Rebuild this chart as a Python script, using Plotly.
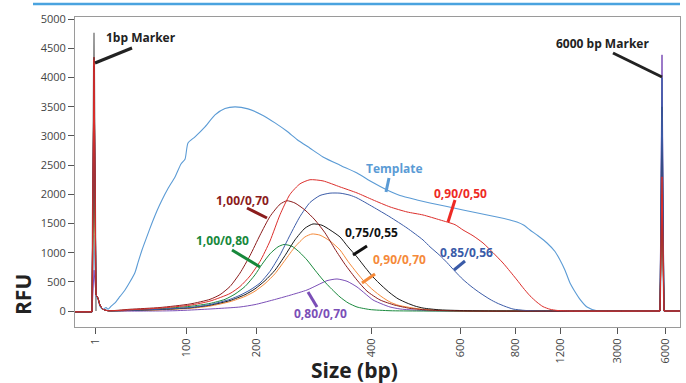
import plotly.graph_objects as go

# ---------------- data ----------------
TICK_POS = [95, 186, 256, 371, 460, 515, 560, 617, 665]
TICK_LABELS = ["1", "100", "200", "400", "600", "800", "1200", "3000", "6000"]
MARKER_POS = [94, 662]

SHOULDER_X = [96, 98, 100, 103, 108]
SHOULDER_Y = [280, 220, 100, 30, 5]

template_x = [96, 98, 100, 103, 106, 108, 111, 115, 120, 125, 130, 135, 138, 142, 147, 152, 157, 162, 168,
              175, 181, 185, 188, 195, 205, 215, 225, 235, 248, 262, 275, 287, 297, 310, 323, 340, 357, 372,
              387, 400, 417, 430, 447, 463, 480, 497, 510, 517, 524, 530, 538, 547, 555, 560, 565, 570, 575,
              580, 587, 597, 620, 655]
template_y = [250, 200, 80, 30, 60, 30, 80, 140, 250, 360, 500, 660, 830, 1046, 1280, 1509, 1720, 1904, 2100,
              2298, 2520, 2600, 2880, 2985, 3156, 3361, 3470, 3499, 3464, 3361, 3224, 3080, 2940, 2790, 2641,
              2500, 2367, 2210, 2075, 1980, 1904, 1852, 1790, 1732, 1670, 1612, 1560, 1526, 1470, 1389, 1290,
              1166, 1020, 875, 700, 480, 330, 200, 69, 5, 0, 0]

red_x = [130, 160, 190, 210, 230, 240, 250, 260, 270, 280, 290, 300, 310, 323, 340, 357, 373, 390, 407, 423,
         440, 455, 463, 473, 483, 493, 503, 510, 517, 523, 530, 537, 543, 550, 557, 570, 655]
red_y = [20, 50, 100, 170, 300, 420, 600, 850, 1200, 1650, 2000, 2180, 2250, 2230, 2127, 2024, 1904, 1784,
         1698, 1646, 1561, 1480, 1389, 1290, 1166, 1000, 823, 680, 532, 400, 260, 150, 75, 30, 10, 0, 0]

blue_x = [130, 160, 190, 210, 230, 240, 250, 260, 270, 280, 290, 300, 310, 320, 330, 340, 350, 357, 373, 390,
          407, 423, 430, 440, 447, 455, 463, 472, 480, 490, 497, 505, 513, 525, 540, 655]
blue_y = [10, 30, 60, 110, 200, 270, 360, 480, 680, 960, 1300, 1620, 1860, 1980, 2020, 2020, 1985, 1938, 1784,
          1612, 1423, 1218, 1100, 950, 830, 680, 540, 410, 310, 200, 137, 80, 34, 10, 0, 0]

darkred_x = [130, 160, 190, 210, 220, 230, 240, 250, 260, 270, 280, 287, 295, 305, 315, 325, 335, 345, 357,
             367, 380, 395, 410, 430, 460, 655]
darkred_y = [30, 60, 120, 200, 280, 420, 650, 950, 1300, 1620, 1830, 1890, 1850, 1730, 1560, 1340, 1060, 800,
             530, 340, 190, 100, 45, 15, 0, 0]

green_x = [130, 160, 190, 210, 225, 235, 245, 255, 262, 270, 278, 284, 292, 300, 307, 315, 323, 332, 340, 348,
           357, 370, 390, 420, 655]
green_y = [15, 40, 80, 130, 200, 290, 420, 620, 800, 980, 1100, 1140, 1110, 1000, 875, 700, 532, 370, 240, 140,
           69, 25, 5, 0, 0]

black_x = [130, 160, 190, 210, 230, 245, 255, 265, 275, 285, 295, 305, 313, 322, 330, 340, 348, 357, 365, 373,
           382, 390, 398, 407, 415, 423, 440, 470, 500, 655]
black_y = [10, 25, 55, 100, 180, 280, 380, 520, 700, 950, 1220, 1420, 1492, 1470, 1390, 1269, 1100, 926, 750,
           583, 430, 309, 210, 137, 85, 51, 20, 5, 0, 0]

orange_x = [130, 160, 190, 210, 230, 245, 255, 265, 275, 285, 295, 305, 312, 320, 330, 340, 348, 357, 365, 373,
            382, 390, 398, 407, 420, 440, 470, 655]
orange_y = [8, 20, 45, 85, 160, 250, 340, 470, 640, 870, 1100, 1270, 1320, 1300, 1200, 1046, 850, 652, 490, 360,
            240, 154, 100, 69, 35, 12, 0, 0]

purple_x = [150, 175, 200, 220, 240, 255, 273, 290, 307, 317, 327, 337, 347, 357, 365, 373, 382, 390, 400, 413,
            430, 450, 655]
purple_y = [0, 5, 25, 45, 69, 110, 189, 270, 360, 440, 520, 549, 510, 412, 300, 189, 120, 69, 35, 17, 5, 0, 0]

# marker peak heights (1 bp marker, 6000 bp marker)
ladder_peaks = [4770, 2100]
template_peaks = [1300, 1800]
purple_peaks = [700, 4390]
orange_peaks = [2200, 2000]
green_peaks = [3400, 2200]
black_peaks = [4200, 3500]
blue_peaks = [4100, 4000]
red_peaks = [4300, 2300]
darkred_peaks = [4350, 2000]

# ---------------- figure ----------------
X0, X1 = 75, 680
Y0, Y1 = -274, 5039

fig = go.Figure()


def add_series(name, xs, ys, peaks, color, width=1.0, shoulder=True):
    p0, p1 = MARKER_POS
    mx = list(SHOULDER_X) + list(xs) if shoulder else list(xs)
    my = list(SHOULDER_Y) + list(ys) if shoulder else list(ys)
    fig.add_trace(go.Scatter(x=mx, y=my, mode="lines", name=name,
                             line=dict(color=color, width=width, shape="spline", smoothing=0.6),
                             showlegend=False, hoverinfo="skip"))
    sx = [X0, p0 - 2, p0, mx[0], None, mx[-1], p1 - 2, p1, p1 + 2, X1]
    sy = [-15, -15, peaks[0], my[0], None, my[-1], 0, peaks[1], 0, 0]
    fig.add_trace(go.Scatter(x=sx, y=sy, mode="lines", name=name, connectgaps=False,
                             line=dict(color=color, width=width),
                             showlegend=False, hoverinfo="skip"))


# grey ladder spikes
p0, p1 = MARKER_POS
fig.add_trace(go.Scatter(x=[p0 - 2, p0, p0 + 2, None, p1 - 2, p1, p1 + 2],
                         y=[0, ladder_peaks[0], 0, None, 0, ladder_peaks[1], 0],
                         mode="lines", line=dict(color="#8c8c8c", width=1.6),
                         showlegend=False, hoverinfo="skip"))

add_series("Template", template_x, template_y, template_peaks, "#5b9bd5", 1.1, shoulder=False)
add_series("0,80/0,70", purple_x, purple_y, purple_peaks, "#7b4fb7")
add_series("0,90/0,70", orange_x, orange_y, orange_peaks, "#f58a3a")
add_series("1,00/0,80", green_x, green_y, green_peaks, "#1b8a3e")
add_series("0,75/0,55", black_x, black_y, black_peaks, "#1a1a1a")
add_series("0,85/0,56", blue_x, blue_y, blue_peaks, "#3c5ca8")
add_series("1,00/0,70", darkred_x, darkred_y, darkred_peaks, "#8b1c1c")
add_series("0,90/0,50", red_x, red_y, red_peaks, "#dc2f2c")

PLOT_L, PLOT_T, PLOT_W, PLOT_H = 75, 17, 605, 310


def P(px, py):
    return (px - PLOT_L) / PLOT_W, (PLOT_T + PLOT_H - py) / PLOT_H


labels = [
    ("1bp Marker", 141, 37, "#222222", (95, 63), (132, 48)),
    ("6000 bp Marker", 602, 43, "#222222", (613, 53), (662, 77)),
    ("Template", 394, 168, "#5b9bd5", (389, 178), (386, 192)),
    ("0,90/0,50", 460, 193, "#ee2a24", (455, 200), (448, 222)),
    ("0,85/0,56", 466, 252, "#3a5ba8", (465, 261), (454, 270)),
    ("1,00/0,70", 242, 200, "#8b1c1c", (247, 208), (267, 218)),
    ("1,00/0,80", 222, 240, "#17883b", (232, 250), (260, 267)),
    ("0,75/0,55", 371, 232, "#111111", (367, 246), (353, 255)),
    ("0,90/0,70", 399, 259, "#f58a3a", (375, 274), (362, 283)),
    ("0,80/0,70", 320, 313, "#7b4fb7", (308, 292), (317, 307)),
]

annotations = []
shapes = []
for text, tx, ty, col, a, b in labels:
    x, y = P(tx, ty)
    annotations.append(dict(text=text, x=x, y=y, xref="paper", yref="paper", showarrow=False,
                            xanchor="center", yanchor="middle",
                            font=dict(family="Open Sans", size=12, color=col, weight="bold")))
    xa, ya = P(*a)
    xb, yb = P(*b)
    shapes.append(dict(type="line", xref="paper", yref="paper", x0=xa, y0=ya, x1=xb, y1=yb,
                       line=dict(color=col, width=3)))

# axis titles
x, y = P(23, 295)
annotations.append(dict(text="RFU", x=x, y=y, xref="paper", yref="paper", showarrow=False, textangle=-90,
                        xanchor="center", yanchor="middle",
                        font=dict(family="Open Sans", size=21, color="#222", weight="bold")))
x, y = P(354, 370)
annotations.append(dict(text="Size (bp)", x=x, y=y, xref="paper", yref="paper", showarrow=False,
                        xanchor="center", yanchor="middle",
                        font=dict(family="Open Sans", size=21, color="#222", weight="bold")))

# top blue rule
xa, ya = P(33, 4)
xb, yb = P(680, 4)
shapes.append(dict(type="line", xref="paper", yref="paper", x0=xa, y0=ya, x1=xb, y1=yb,
                   line=dict(color="#4aa3df", width=2.5)))

fig.update_layout(
    width=686, height=383,
    margin=dict(l=PLOT_L, r=686 - PLOT_L - PLOT_W, t=PLOT_T, b=383 - PLOT_T - PLOT_H, autoexpand=False),
    paper_bgcolor="white", plot_bgcolor="white",
    annotations=annotations, shapes=shapes,
    xaxis=dict(range=[X0, X1], tickvals=TICK_POS, ticktext=TICK_LABELS, tickangle=-90, automargin=False,
               showgrid=False, zeroline=False, showline=True, mirror=True, linecolor="#9a9a9a",
               linewidth=1, ticks="outside", ticklen=6, tickcolor="#555",
               tickfont=dict(family="Open Sans", size=11, color="#444")),
    yaxis=dict(range=[Y0, Y1], tickvals=list(range(0, 5001, 500)), showgrid=False, zeroline=False,
               automargin=False,
               showline=True, mirror=True, linecolor="#9a9a9a", linewidth=1, ticks="outside",
               ticklen=6, tickcolor="#555",
               tickfont=dict(family="Open Sans", size=11, color="#444")),
    showlegend=False,
)

fig.write_html("out.html", config={"displayModeBar": False},
               post_script="document.body.style.margin='0';document.body.style.overflow='hidden';")
